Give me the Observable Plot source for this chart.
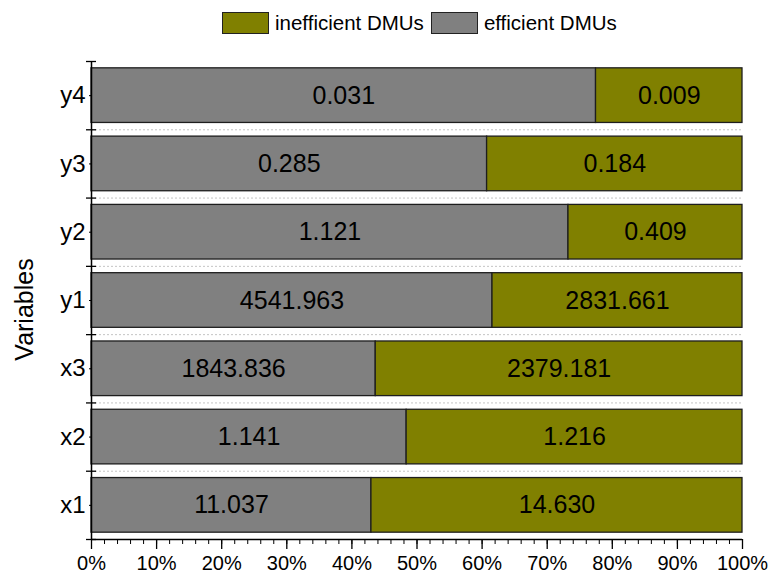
<!DOCTYPE html>
<html>
<head>
<meta charset="utf-8">
<script src="https://cdn.jsdelivr.net/npm/d3@7"></script>
<script src="https://cdn.jsdelivr.net/npm/@observablehq/plot@0.6"></script>
<style>
  html, body { margin: 0; padding: 0; background: #fff; }
  body { font-family: "Liberation Sans", Arial, sans-serif; width: 770px; }
  #legend { position: relative; height: 45px; }
  #legend .items { position: absolute; left: 222px; top: 12px; display: flex; align-items: center; font-size: 20.5px; color: #000; }
  #legend .sw { width: 45px; height: 20px; border: 1px solid #222; margin-right: 6px; }
  #legend .lab { margin-right: 7px; line-height: 22px; }
  #chart svg { display: block; }
</style>
</head>
<body>
<div id="legend"></div>
<div id="chart"></div>
<script>
// ---- data ----
const variables = ["x1", "x2", "x3", "y1", "y2", "y3", "y4"];           // bottom -> top
const efficientValues = [11.037, 1.141, 1843.836, 4541.963, 1.121, 0.285, 0.031];
const inefficientValues = [14.630, 1.216, 2379.181, 2831.661, 0.409, 0.184, 0.009];
const seriesNames = ["efficient DMUs", "inefficient DMUs"];
const seriesColors = ["#808080", "#808000"];
const legendOrder = ["inefficient DMUs", "efficient DMUs"];
const xTickValues = [0, 0.1, 0.2, 0.3, 0.4, 0.5, 0.6, 0.7, 0.8, 0.9, 1];
const xTickLabels = ["0%", "10%", "20%", "30%", "40%", "50%", "60%", "70%", "80%", "90%", "100%"];
const xMinorTicks = [0, 0.02, 0.04, 0.06, 0.08, 0.1, 0.12, 0.14, 0.16, 0.18, 0.2, 0.22, 0.24, 0.26, 0.28, 0.3,
  0.32, 0.34, 0.36, 0.38, 0.4, 0.42, 0.44, 0.46, 0.48, 0.5, 0.52, 0.54, 0.56, 0.58, 0.6, 0.62, 0.64, 0.66, 0.68, 0.7,
  0.72, 0.74, 0.76, 0.78, 0.8, 0.82, 0.84, 0.86, 0.88, 0.9, 0.92, 0.94, 0.96, 0.98, 1];
const yAxisTitle = "Variables";

// ---- build table ----
const rows = [];
variables.forEach((v, i) => {
  const total = efficientValues[i] + inefficientValues[i];
  const share = efficientValues[i] / total;
  rows.push({variable: v, idx: i, series: seriesNames[0], value: efficientValues[i], s0: 0, s1: share});
  rows.push({variable: v, idx: i, series: seriesNames[1], value: inefficientValues[i], s0: share, s1: 1});
});
const boundaries = d3.range(variables.length + 1);
const centers = variables.map((v, i) => i + 0.5);
const pad = 0.1;

// ---- legend ----
const colorOf = Object.fromEntries(seriesNames.map((s, i) => [s, seriesColors[i]]));
const items = document.createElement("div");
items.className = "items";
legendOrder.forEach(s => {
  const sw = document.createElement("div");
  sw.className = "sw";
  sw.style.background = colorOf[s];
  const lab = document.createElement("span");
  lab.className = "lab";
  lab.textContent = s;
  items.appendChild(sw);
  items.appendChild(lab);
});
document.getElementById("legend").appendChild(items);

// ---- chart ----
const chart = Plot.plot({
  width: 770,
  height: 533,
  marginTop: 16,
  marginBottom: 39,
  marginLeft: 91,
  marginRight: 28,
  style: {fontFamily: "Liberation Sans, Arial, sans-serif", background: "#fff", color: "#000", overflow: "visible"},
  x: {domain: [0, 1]},
  y: {domain: [0, variables.length]},
  color: {domain: seriesNames, range: seriesColors},
  marks: [
    Plot.ruleY(boundaries.slice(1, -1), {stroke: "#c4c4c4", strokeDasharray: "2,2", strokeWidth: 1}),
    Plot.rect(rows, {
      x1: "s0", x2: "s1",
      y1: d => d.idx + pad, y2: d => d.idx + 1 - pad,
      fill: "series", stroke: "#1e1e1e", strokeWidth: 1.3
    }),
    Plot.text(rows, {
      x: d => (d.s0 + d.s1) / 2, y: d => d.idx + 0.5,
      text: d => d.value.toFixed(3), fontSize: 25, fill: "#000"
    }),
    Plot.ruleX([0], {stroke: "#000", strokeWidth: 1.5}),
    Plot.ruleY([0], {stroke: "#000", strokeWidth: 1.5}),
    Plot.axisY(boundaries, {tickSize: 10, dx: 5, tickFormat: () => "", label: null, strokeWidth: 1.3}),
    Plot.axisY(centers, {tickSize: 2, tickPadding: 4, tickFormat: d => variables[Math.floor(d)], fontSize: 24, label: null}),
    Plot.axisX(xMinorTicks, {tickSize: 5, tickFormat: () => "", label: null}),
    Plot.axisX(xTickValues, {tickSize: 10, tickPadding: 6, tickFormat: d => xTickLabels[xTickValues.indexOf(d)], fontSize: 20, label: null, strokeWidth: 1.3}),
    Plot.text([yAxisTitle], {frameAnchor: "left", textAnchor: "middle", dx: -67, dy: 9, rotate: -90, fontSize: 25, fill: "#000"})
  ]
});
document.getElementById("chart").appendChild(chart);
</script>
</body>
</html>
